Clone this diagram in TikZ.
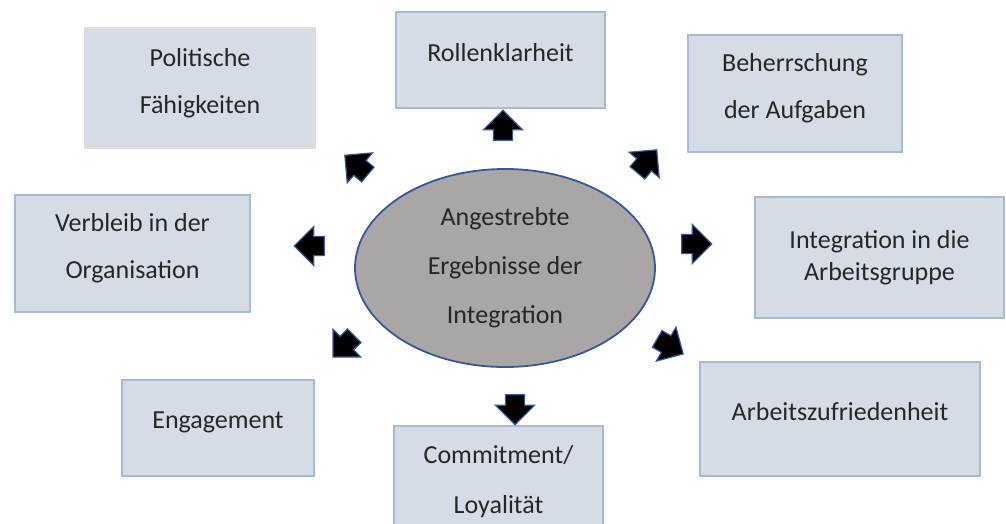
\documentclass[tikz,border=0pt]{standalone}
\usepackage{fontspec}
\setmainfont{Carlito}
\usepackage{xcolor}
\usepackage{tikz}
\usetikzlibrary{arrows.meta,positioning,shapes.geometric,shapes.arrows}
\definecolor{boxfill}{RGB}{214,220,229}
\definecolor{boxline}{RGB}{168,186,218}
\definecolor{ovalfill}{RGB}{171,166,166}
\definecolor{ovalline}{RGB}{52,88,156}
\definecolor{textgray}{RGB}{38,38,38}
\tikzset{
  result/.style={draw=boxline, line width=1.8pt, fill=boxfill, align=center, inner sep=0pt,
    text=textgray, font=\fontsize{26}{47}\selectfont},
  raised/.style={result, text depth=15pt},
  center/.style={ellipse, draw=ovalline, line width=1.8pt, fill=ovalfill, align=center,
    inner sep=0pt, text=textgray, font=\fontsize{26}{49}\selectfont},
  blockarrow/.style={single arrow, draw=ovalline, line width=1.2pt, fill=black,
    inner xsep=0pt, inner ysep=9pt, minimum height=30pt, minimum width=38pt,
    single arrow head extend=10pt, single arrow head indent=0pt}
}

\begin{document}
\begin{tikzpicture}[x=1pt, y=-1pt]
    \useasboundingbox (0,0) rectangle (1006,523);

    % central goal
    \node[center, minimum width=300pt, minimum height=198pt] (goal) at (505,268)
      {Angestrebte\\ Ergebnisse der\\ Integration};

    % outcomes around it
    \node[raised, draw=gray!25, minimum width=230pt, minimum height=120pt] (politik) at (200,88)
      {Politische\\ Fähigkeiten};
    \node[raised, minimum width=209pt, minimum height=96pt] (rollen) at (500.5,60)
      {Rollenklarheit};
    \node[raised, minimum width=214pt, minimum height=117pt] (aufgaben) at (795,93.5)
      {Beherrschung\\ der Aufgaben};
    \node[raised, minimum width=235pt, minimum height=117pt] (verbleib) at (132.5,253.5)
      {Verbleib in der\\ Organisation};
    \node[result, font=\fontsize{26}{32}\selectfont, minimum width=249pt, minimum height=121pt]
      (gruppe) at (879.5,257.5) {Integration in die\\ Arbeitsgruppe};
    \node[raised, minimum width=192pt, minimum height=96pt] (engagement) at (218,428)
      {Engagement};
    \node[result, font=\fontsize{26}{50}\selectfont, minimum width=209pt, minimum height=111pt]
      (commitment) at (498.5,481.5) {Commitment/\\ Loyalität};
    \node[raised, minimum width=280pt, minimum height=114pt] (zufrieden) at (840,419)
      {Arbeitszufriedenheit};

    % block arrows
    \node[blockarrow, rotate=90] (a1) at (503,130) {};
    \node[blockarrow, rotate=140] (a2) at (360,168) {};
    \node[blockarrow, rotate=180] (a3) at (314,246) {};
    \node[blockarrow, rotate=225] (a4) at (347,343) {};
    \node[blockarrow, rotate=270] (a5) at (515,405) {};
    \node[blockarrow, rotate=-30] (a6) at (666,344) {};
    \node[blockarrow] (a7) at (692,244) {};
    \node[blockarrow, rotate=50] (a8) at (644,165) {};
  \end{tikzpicture}
\end{document}
